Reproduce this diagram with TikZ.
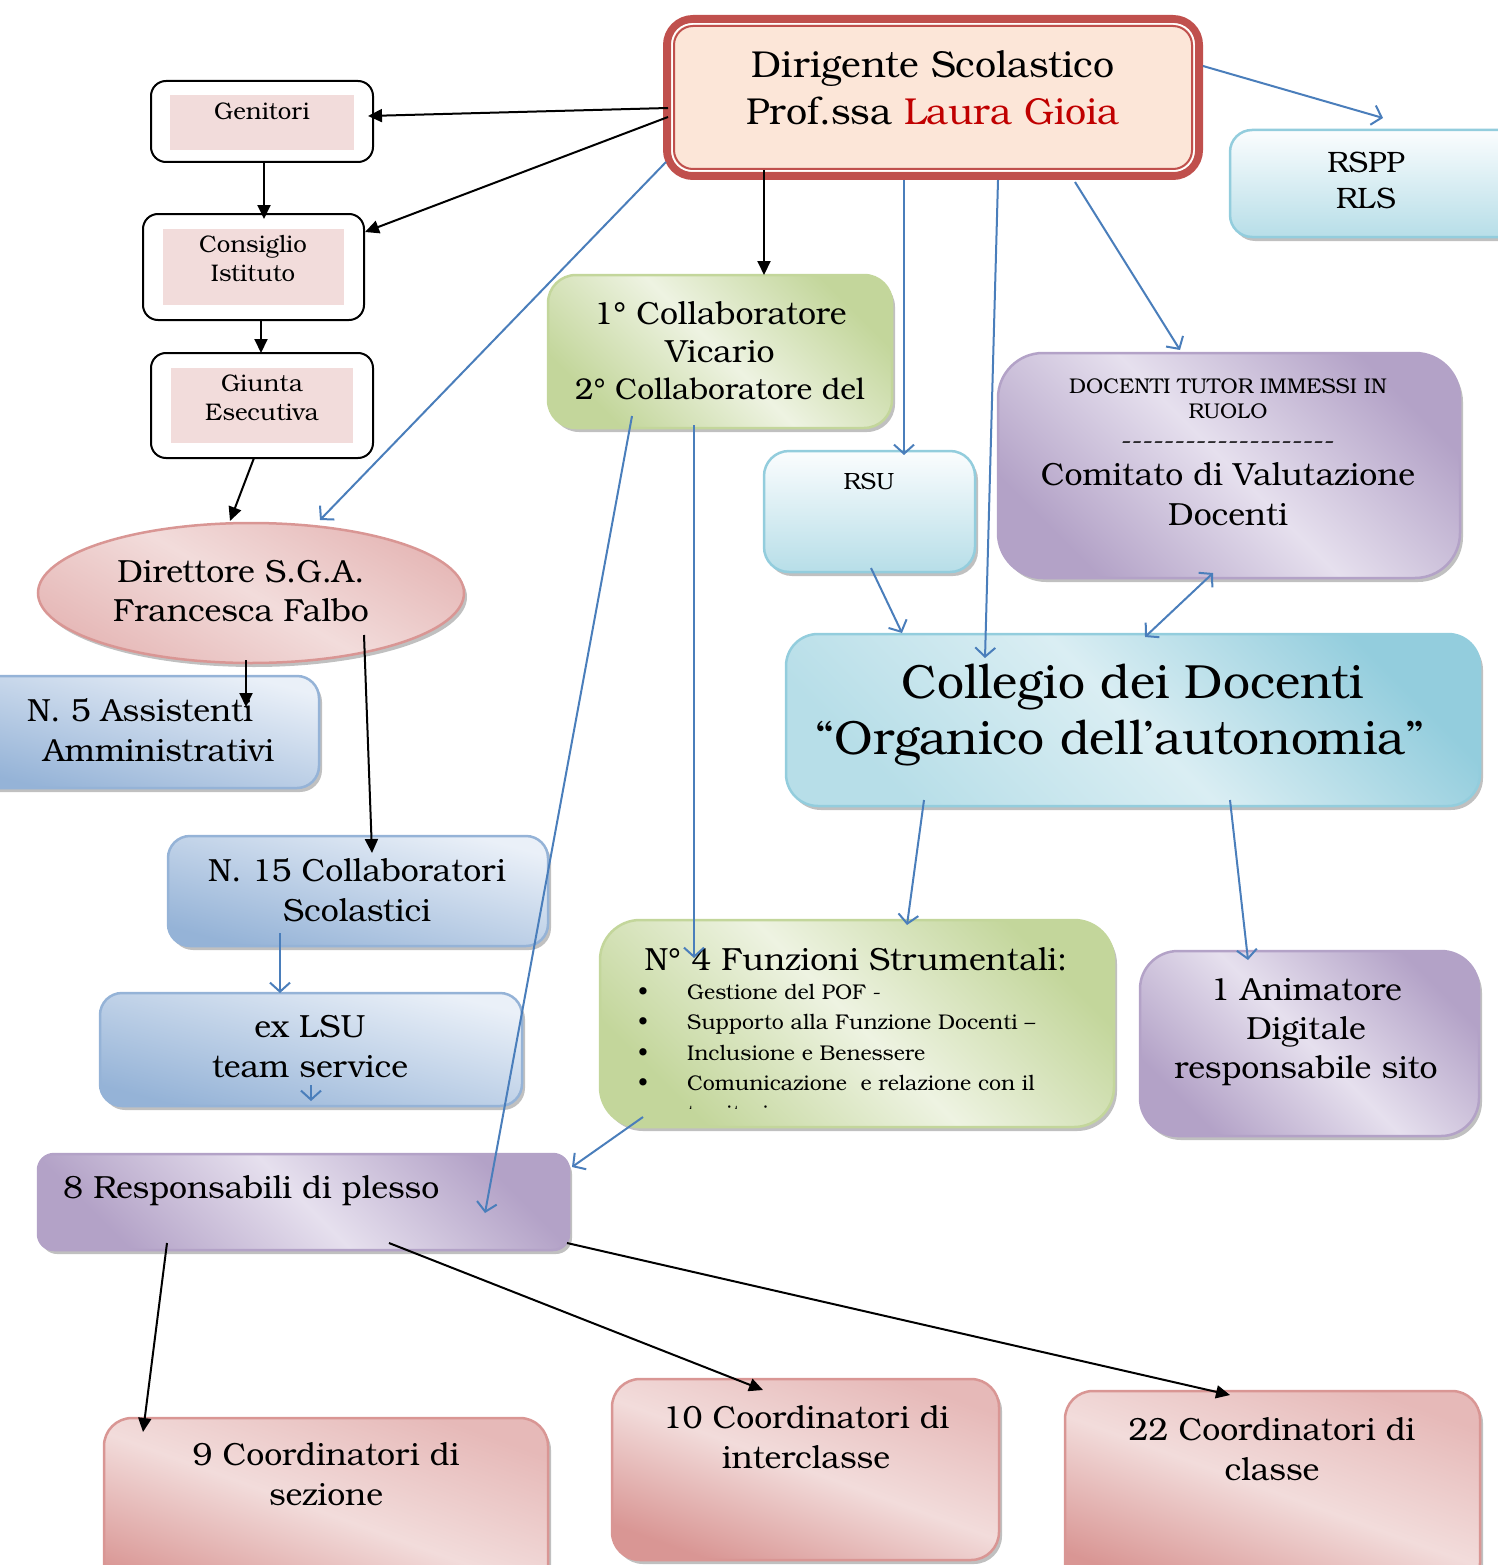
\documentclass[tikz,border=0pt]{standalone}
\usepackage{fontspec}
\setmainfont{texgyrebonum}[Extension=.otf,UprightFont=*-regular,BoldFont=*-bold,ItalicFont=*-italic,BoldItalicFont=*-bolditalic]
\usetikzlibrary{arrows.meta,shadows,calc,shapes.geometric}
\definecolor{redD}{HTML}{C0504D}
\definecolor{peach}{HTML}{FCE6D8}
\definecolor{redT}{HTML}{C00000}
\definecolor{pinkL}{HTML}{F2DCDB}
\definecolor{pinkM}{HTML}{E6B9B8}
\definecolor{pinkD}{HTML}{D99694}
\definecolor{greenL}{HTML}{EEF3E2}
\definecolor{greenD}{HTML}{C3D69B}
\definecolor{purL}{HTML}{E6E0EE}
\definecolor{purD}{HTML}{B3A2C7}
\definecolor{cyanL}{HTML}{FBFDFE}
\definecolor{cyanM}{HTML}{DAEEF3}
\definecolor{cyanD}{HTML}{93CDDD}
\definecolor{cyanB}{HTML}{B7DEE8}
\definecolor{bluL}{HTML}{EAF0F8}
\definecolor{bluD}{HTML}{95B3D7}
\definecolor{blueline}{HTML}{4A7EBB}
\newcommand\fs[2]{\fontsize{#1}{#2}\selectfont}
\begin{document}
\begin{tikzpicture}[x=1pt,y=-1pt,
  bx/.style={rectangle, rounded corners=22pt, line width=2.5pt, outer sep=0pt, inner sep=0pt, anchor=north west,
    drop shadow={shadow xshift=3pt,shadow yshift=-4pt,fill=black!45,opacity=.55}},
  wbox/.style={rectangle, rounded corners=15pt, draw=black, line width=2pt, fill=white, outer sep=0pt, inner sep=0pt, anchor=north west},
  greenbox/.style={bx, draw=greenD, top color=greenD, bottom color=greenD, middle color=greenL, shading angle=-45},
  purbox/.style={bx, draw=purD, top color=purD, bottom color=purD, middle color=purL, shading angle=-45},
  pinkbox/.style={bx, draw=pinkD, top color=pinkM, bottom color=pinkD, middle color=pinkL, shading angle=-20},
  cyanbox/.style={bx, draw=cyanD, top color=cyanL, bottom color=cyanB},
  colbox/.style={bx, draw=cyanD, top color=cyanD, bottom color=cyanB, middle color=cyanM, shading angle=-45},
  blubox/.style={bx, draw=bluD, top color=bluL, bottom color=bluD, shading angle=-15},
  txt/.style={inner sep=0pt, align=center},
  blk/.style={-{Triangle[length=14pt,width=13pt]}, line width=2pt, draw=black},
  blu/.style={-{Straight Barb[length=9pt,width=20pt]}, line width=2pt, draw=blueline},
  blub/.style={{Straight Barb[length=9pt,width=20pt]}-{Straight Barb[length=9pt,width=20pt]}, line width=2pt, draw=blueline}
]
\useasboundingbox (0,0) rectangle (1497,1565);

% ---- Dirigente
\node[rectangle, rounded corners=26pt, draw=redD, line width=8pt, fill=peach, outer sep=0pt, inner sep=0pt, anchor=north west,
  minimum width=532pt, minimum height=157pt] (dir) at (667,19) {};
\draw[white, line width=1.5pt, rounded corners=20pt] ($(dir.north west)+(5,5)$) rectangle ($(dir.south east)+(-5,-5)$);
\draw[redD, line width=2pt, rounded corners=19pt] ($(dir.north west)+(7,7)$) rectangle ($(dir.south east)+(-7,-7)$);
\node[txt, font=\fs{37.5}{47}] (dirT) at (933,88) {Dirigente Scolastico\\Prof.ssa \textcolor{redT}{Laura Gioia}};

% ---- left column
\node[wbox, minimum width=222pt, minimum height=81pt] (gen) at (151,81) {};
\fill[pinkL] ($(gen.north west)+(19,14)$) rectangle ($(gen.south east)+(-19,-12)$);
\node[txt, font=\fs{24}{29}] (genT) at (262,111) {Genitori};

\node[wbox, minimum width=221pt, minimum height=106pt] (con) at (143,214) {};
\fill[pinkL] ($(con.north west)+(20,15)$) rectangle ($(con.south east)+(-20,-15)$);
\node[txt, font=\fs{24}{29}] (conT) at (253,259) {Consiglio\\Istituto};

\node[wbox, minimum width=222pt, minimum height=105pt] (giu) at (151,353) {};
\fill[pinkL] ($(giu.north west)+(20,15)$) rectangle ($(giu.south east)+(-20,-15)$);
\node[txt, font=\fs{24}{29}] (giuT) at (262,398) {Giunta\\Esecutiva};

% ---- collaboratore
\node[greenbox, rounded corners=28pt, minimum width=344pt, minimum height=153pt] (cola) at (548,275) {};
\node[txt, font=\fs{32}{37.5}] (colaT) at (720,351) {1° Collaboratore\\Vicario\\{\fs{30}{37.5}2° Collaboratore del}};

% ---- RSPP
\node[cyanbox, minimum width=300pt, minimum height=107pt] (rspp) at (1230,130) {};
\node[txt, font=\fs{29.5}{36}] (rsppT) at (1366,180) {RSPP\\RLS};

% ---- RSU
\node[cyanbox, rounded corners=25pt, minimum width=211pt, minimum height=121pt] (rsu) at (764,451) {};
\node[txt, font=\fs{23.5}{29}] (rsuT) at (869,481) {RSU};

% ---- Docenti tutor / Comitato
\node[purbox, rounded corners=45pt, minimum width=462pt, minimum height=225pt] (doc) at (998,353) {};
\node[txt, font=\fs{21.3}{25}] (docT) at (1228,399) {DOCENTI TUTOR IMMESSI IN\\RUOLO};
\node[txt, font=\fs{26.7}{25}] (docD) at (1228,446) {-{}-{}-{}-{}-{}-{}-{}-{}-{}-{}-{}-{}-{}-{}-{}-{}-{}-{}-{}-{}};
\node[txt, font=\fs{32}{40}] (docC) at (1228,494) {Comitato di Valutazione\\Docenti};

% ---- Direttore SGA
\node[ellipse, draw=pinkD, line width=2.5pt, top color=pinkM, bottom color=pinkM, middle color=pinkL, shading angle=-30,
  minimum width=426pt, minimum height=140pt, inner sep=0pt, outer sep=0pt,
  drop shadow={shadow xshift=3pt,shadow yshift=-4pt,fill=black!45,opacity=.55}] (ell) at (251,593) {};
\node[txt, font=\fs{32}{39}] (ellT) at (241,591) {Direttore S.G.A.\\Francesca Falbo};

% ---- N.5
\node[blubox, minimum width=349pt, minimum height=112pt] (n5) at (-30,676) {};
\node[inner sep=0pt, align=left, anchor=west, font=\fs{32}{40}] (n5T) at (27,730) {N. 5 Assistenti\\\hspace*{16pt}Amministrativi};

% ---- N.15
\node[blubox, minimum width=380pt, minimum height=110pt] (n15) at (168,836) {};
\node[txt, font=\fs{32}{40}] (n15T) at (357,890) {N. 15 Collaboratori\\Scolastici};

% ---- ex LSU
\node[blubox, minimum width=422pt, minimum height=113pt] (lsu) at (100,993) {};
\node[txt, font=\fs{32}{40}] (lsuT) at (310,1047) {ex LSU\\team service};

% ---- Collegio
\node[colbox, rounded corners=32pt, minimum width=694pt, minimum height=172pt] (col) at (786,634) {};
\node[txt, font=\fs{48}{56}] (colT) at (1133,715) {Collegio dei Docenti\\“Organico dell’autonomia”\hspace*{26pt}};

% ---- Funzioni strumentali
\node[greenbox, rounded corners=40pt, minimum width=514pt, minimum height=207pt] (fun) at (600,920) {};
\node[txt, font=\fs{32}{40}] (funT) at (856,959) {N° 4 Funzioni Strumentali:};
\begin{scope}
\clip (600,900) rectangle (1114,1108);
\node[inner sep=0pt, align=left, anchor=north west, font=\fs{21.3}{30.3}] (funL) at (638,984)
 {\makebox[49pt][l]{•}Gestione del POF -\\
  \makebox[49pt][l]{•}Supporto alla Funzione Docenti –\\
  \makebox[49pt][l]{•}Inclusione e Benessere\\
  \makebox[49pt][l]{•}Comunicazione\ \ e relazione con il\\
  \makebox[49pt][l]{}territorio};
\end{scope}

% ---- Animatore
\node[purbox, rounded corners=38pt, minimum width=339pt, minimum height=185pt] (ani) at (1140,951) {};
\node[txt, font=\fs{32}{39}] (aniT) at (1306,1032) {1 Animatore\\Digitale\\responsabile sito};

% ---- Responsabili
\node[purbox, rounded corners=16pt, minimum width=531pt, minimum height=96pt] (resp) at (38,1154) {};
\node[inner sep=0pt, anchor=west, font=\fs{32}{40}] (respT) at (63,1191) {8 Responsabili di plesso};

% ---- Coordinatori
\node[pinkbox, rounded corners=28pt, minimum width=444pt, minimum height=190pt] (c9) at (104,1418) {};
\node[txt, font=\fs{32}{40}] (c9T) at (326,1474) {9 Coordinatori di\\sezione};
\node[pinkbox, rounded corners=28pt, minimum width=387pt, minimum height=181pt] (c10) at (612,1379) {};
\node[txt, font=\fs{32}{40}] (c10T) at (806,1437) {10 Coordinatori di\\interclasse};
\node[pinkbox, rounded corners=28pt, minimum width=415pt, minimum height=200pt] (c22) at (1065,1391) {};
\node[txt, font=\fs{32}{40}] (c22T) at (1272,1449) {22 Coordinatori di\\classe};

% ---- black connectors
\draw[blk] ($(dir.north west)+(1,89)$) -- ($(gen.north east)+(-5,35)$);
\draw[blk] ($(dir.north west)+(1,98)$) -- ($(con.north east)+(1,18)$);
\draw[blk] ($(dir.south west)+(97,-6)$) -- ($(cola.north west)+(216,0)$);
\draw[blk] ($(gen.south west)+(113,0)$) -- ($(con.north west)+(121,5)$);
\draw[blk] ($(con.south west)+(118,0)$) -- ($(giu.north west)+(110,0)$);
\draw[blk] ($(giu.south west)+(103,0)$) -- ($(ell.center)+(-21,-72)$);
\draw[blk] ($(ell.center)+(-5,67)$) -- ($(n5.north west)+(276,31)$);
\draw[blk] ($(ell.center)+(113,42)$) -- ($(n15.north west)+(204,17)$);
\draw[blk] ($(resp.south west)+(129,-7)$) -- ($(c9.north west)+(39,14)$);
\draw[blk] ($(resp.south west)+(351,-7)$) -- ($(c10.north west)+(151,11)$);
\draw[blk] ($(resp.south east)+(-2,-7)$) -- ($(c22.north west)+(165,4)$);

% ---- blue connectors
\draw[blu] ($(dir.south west)+(-1,-14)$) -- ($(ell.center)+(69,-73)$);
\draw[blu] ($(dir.north east)+(4,47)$) -- ($(rspp.north west)+(153,-12)$);
\draw[blu] ($(dir.south west)+(237,4)$) -- ($(rsu.north west)+(140,4)$);
\draw[blu] ($(dir.south west)+(331,4)$) -- ($(col.north west)+(199,24)$);
\draw[blu] ($(dir.south west)+(408,6)$) -- ($(doc.north west)+(182,-3)$);
\draw[blu] ($(rsu.north west)+(107,117)$) -- ($(col.north west)+(116,-1)$);
\draw[blub] ($(col.north west)+(359,3)$) -- ($(doc.north west)+(215,220)$);
\draw[blu] ($(col.north west)+(138,166)$) -- ($(fun.north west)+(307,5)$);
\draw[blu] ($(col.north west)+(444,166)$) -- ($(ani.north west)+(108,9)$);
\draw[blu] ($(cola.north west)+(146,150)$) -- ($(fun.north west)+(94,38)$);
\draw[blu] ($(cola.north west)+(84,141)$) -- ($(resp.north west)+(447,59)$);
\draw[blu] ($(fun.north west)+(43,197)$) -- ($(resp.north west)+(534,13)$);
\draw[blu] ($(n15.north west)+(112,97)$) -- ($(lsu.north west)+(180,0)$);
\draw[blu] ($(lsu.north west)+(211,92)$) -- ($(lsu.north west)+(211,108)$);
\end{tikzpicture}
\end{document}
